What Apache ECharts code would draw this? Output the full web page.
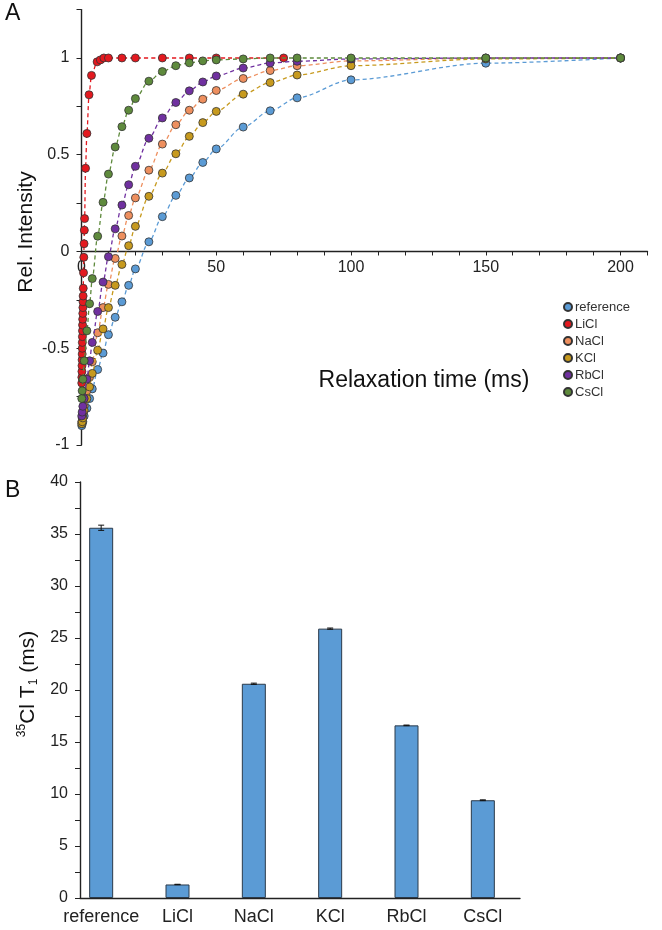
<!DOCTYPE html>
<html>
<head>
<meta charset="utf-8">
<script src="https://cdn.jsdelivr.net/npm/echarts@6/dist/echarts.min.js"></script>
<style>
html,body{margin:0;padding:0;background:#fff;}
#chart{width:662px;height:930px;}
</style>
</head>
<body>
<div id="chart"></div>
<script>
// ---------- Panel A data ----------
const timesMs = [0.1,0.25,0.5,1,2,3,4,6,8,10,12.5,15,17.5,20,25,30,35,40,45,50,60,70,80,100,150,200];
const referenceVals = [-0.90,-0.89,-0.88,-0.85,-0.81,-0.76,-0.71,-0.61,-0.525,-0.43,-0.34,-0.26,-0.175,-0.09,0.05,0.18,0.29,0.38,0.46,0.53,0.643,0.727,0.794,0.887,0.973,1.0];
const naclVals = [-0.88,-0.86,-0.84,-0.80,-0.72,-0.65,-0.57,-0.42,-0.29,-0.17,-0.036,0.08,0.186,0.277,0.42,0.555,0.655,0.73,0.787,0.832,0.894,0.935,0.96,0.985,0.999,1.0];
const kclVals = [-0.89,-0.88,-0.86,-0.82,-0.76,-0.70,-0.63,-0.51,-0.40,-0.29,-0.175,-0.067,0.03,0.13,0.285,0.405,0.505,0.595,0.666,0.724,0.813,0.873,0.912,0.96,0.995,1.0];
const rbclVals = [-0.85,-0.83,-0.80,-0.76,-0.66,-0.565,-0.47,-0.31,-0.158,-0.027,0.117,0.24,0.345,0.44,0.585,0.69,0.77,0.83,0.876,0.907,0.948,0.974,0.983,0.995,1.0,1.0];
const csclVals = [-0.76,-0.72,-0.66,-0.565,-0.41,-0.27,-0.14,0.079,0.254,0.40,0.54,0.645,0.73,0.79,0.88,0.93,0.96,0.975,0.985,0.99,0.995,1.0,1.0,1.0,1.0,1.0];
const liclTimes = [0.1,0.13,0.16,0.19,0.22,0.25,0.28,0.31,0.34,0.37,0.4,0.44,0.48,0.52,0.56,0.6,0.65,0.75,0.85,0.95,1.05,1.15,1.5,2,2.8,3.7,5.8,7,8.3,10,15,20,30,40,50,75];
const liclVals = [-0.68,-0.65,-0.62,-0.59,-0.56,-0.53,-0.5,-0.47,-0.44,-0.41,-0.38,-0.35,-0.32,-0.29,-0.26,-0.23,-0.19,-0.11,-0.03,0.04,0.11,0.17,0.43,0.61,0.81,0.91,0.98,0.99,1,1,1,1,1,1,1,1];
const seriesNames = ['reference','LiCl','NaCl','KCl','RbCl','CsCl'];
const seriesColors = ['#5b9bd5','#e3191f','#ee8f5e','#c79a1e','#7030a0','#5e8a3c'];

// ---------- Panel B data ----------
const saltCategories = ['reference','LiCl','NaCl','KCl','RbCl','CsCl'];
const t1Values = [35.6,1.3,20.6,25.9,16.6,9.4];
const t1Errors = [0.25,0.02,0.06,0.06,0.03,0.04];

const FONT = 'Liberation Sans, Arial, sans-serif';

function pairs(xs, ys){ return xs.map((x,i)=>[x, ys[i]]); }
const panelAData = [
  pairs(timesMs, referenceVals),
  pairs(liclTimes, liclVals),
  pairs(timesMs, naclVals),
  pairs(timesMs, kclVals),
  pairs(timesMs, rbclVals),
  pairs(timesMs, csclVals)
];

const lineSeries = seriesNames.map((name,i)=>({
  name: name,
  type: 'line',
  xAxisIndex: 0, yAxisIndex: 0,
  data: panelAData[i],
  smooth: 0.3,
  smoothMonotone: 'x',
  symbol: 'circle',
  symbolSize: 8,
  itemStyle: {color: seriesColors[i], borderColor: '#333', borderWidth: 0.8},
  lineStyle: {color: seriesColors[i], width: 1.3, type: [4,3]},
  emphasis: {disabled: true},
  animation: false,
  z: 2 + i
}));

const axisLineStyle = {color: '#222', width: 1.4};
// top grid geometry: y from -1 to 1.25 over the grid height
const gridATop = 9.6, gridAHeight = 435.4;
const zeroOffset = -gridAHeight * (1 / 2.25);

const option = {
  backgroundColor: '#fff',
  animation: false,
  textStyle: {fontFamily: FONT},
  legend: {
    orient: 'vertical',
    left: 558, top: 295,
    itemWidth: 8, itemHeight: 8, itemGap: 3,
    icon: 'circle',
    data: seriesNames,
    textStyle: {fontSize: 13, color: '#333', fontFamily: FONT, lineHeight: 14, padding: [0,0,0,-2]}
  },
  grid: [
    {left: 81.5, top: gridATop, width: 566, height: gridAHeight},
    {left: 63, top: 482, width: 458, height: 416},
    {left: 80, top: 482, width: 440, height: 416}
  ],
  xAxis: [
    {
      type: 'value', gridIndex: 0, min: 0, max: 210, interval: 50,
      position: 'bottom', offset: zeroOffset,
      axisLine: {onZero: false, lineStyle: axisLineStyle},
      axisTick: {show: true, length: 4, lineStyle: {color: '#222'}},
      minorTick: {show: true, splitNumber: 5, length: 4, lineStyle: {color: '#222'}},
      splitLine: {show: false},
      axisLabel: {fontSize: 16, color: '#222', margin: 8, showMaxLabel: false, fontFamily: FONT}
    },
    {
      type: 'category', gridIndex: 1, data: saltCategories,
      axisLine: {show: false}, axisTick: {show: false},
      axisLabel: {fontSize: 18, color: '#222', margin: 10, interval: 0, hideOverlap: false, fontFamily: FONT}
    },
    {
      type: 'value', gridIndex: 2, min: 0, max: 1,
      axisLine: {show: true, onZero: false, lineStyle: axisLineStyle},
      axisTick: {show: false}, axisLabel: {show: false}, splitLine: {show: false}
    }
  ],
  yAxis: [
    {
      type: 'value', gridIndex: 0, min: -1, max: 1.25, interval: 0.5,
      axisLine: {show: true, onZero: false, lineStyle: axisLineStyle},
      axisTick: {show: true, length: 5, lineStyle: {color: '#222'}},
      minorTick: {show: true, splitNumber: 2, length: 5, lineStyle: {color: '#222'}},
      splitLine: {show: false},
      axisLabel: {fontSize: 16, color: '#222', margin: 12, showMaxLabel: false, fontFamily: FONT}
    },
    {
      type: 'value', gridIndex: 1, min: 0, max: 40, show: false
    },
    {
      type: 'value', gridIndex: 2, min: 0, max: 40, interval: 5,
      axisLine: {show: true, lineStyle: axisLineStyle},
      axisTick: {show: true, length: 5, lineStyle: {color: '#222'}},
      minorTick: {show: true, splitNumber: 2, length: 5, lineStyle: {color: '#222'}},
      splitLine: {show: false},
      axisLabel: {fontSize: 16, color: '#222', margin: 12, fontFamily: FONT}
    }
  ],
  series: lineSeries.concat([
    {
      type: 'bar', xAxisIndex: 1, yAxisIndex: 1,
      data: t1Values, barWidth: 24,
      itemStyle: {color: '#5b9bd5', borderColor: '#2b3a4a', borderWidth: 1},
      emphasis: {disabled: true}, animation: false
    },
    {
      type: 'custom', xAxisIndex: 1, yAxisIndex: 1,
      data: t1Values.map((v,i)=>[i, v, t1Errors[i]]),
      renderItem: function(params, api){
        const x = api.value(0), v = api.value(1), e = api.value(2);
        const top = api.coord([x, v + e]);
        const bot = api.coord([x, v - e]);
        const hw = 3;
        const st = {stroke: '#111', lineWidth: 1};
        return {type: 'group', children: [
          {type: 'line', shape: {x1: top[0], y1: top[1], x2: bot[0], y2: bot[1]}, style: st},
          {type: 'line', shape: {x1: top[0]-hw, y1: top[1], x2: top[0]+hw, y2: top[1]}, style: st},
          {type: 'line', shape: {x1: bot[0]-hw, y1: bot[1], x2: bot[0]+hw, y2: bot[1]}, style: st}
        ]};
      },
      z: 10, animation: false
    }
  ]),
  graphic: [
    {type: 'text', left: 5, top: 2, style: {text: 'A', fontSize: 23, fontFamily: FONT, fill: '#111'}},
    {type: 'text', left: 5, top: 479, style: {text: 'B', fontSize: 23, fontFamily: FONT, fill: '#111'}},
    {type: 'text', x: 424, y: 381, style: {text: 'Relaxation time (ms)', fontSize: 23, fontFamily: FONT, fill: '#111', align: 'center', verticalAlign: 'middle'}},
    {type: 'text', x: 26, y: 232, rotation: Math.PI/2, style: {text: 'Rel. Intensity', fontSize: 21, fontFamily: FONT, fill: '#111', align: 'center', verticalAlign: 'middle'}},
    {type: 'text', x: 28, y: 684, rotation: Math.PI/2, style: {
      text: '{sup|35}{m|Cl T}{sub|1}{m| (ms)}',
      align: 'center', verticalAlign: 'middle',
      rich: {
        m: {fontSize: 21, fontFamily: FONT, fill: '#111', lineHeight: 24},
        sup: {fontSize: 12, fontFamily: FONT, fill: '#111', verticalAlign: 'top', lineHeight: 24},
        sub: {fontSize: 12, fontFamily: FONT, fill: '#111', verticalAlign: 'bottom', lineHeight: 24}
      }
    }}
  ]
};

const chart = echarts.init(document.getElementById('chart'), null, {renderer: 'canvas'});
chart.setOption(option);
</script>
</body>
</html>
